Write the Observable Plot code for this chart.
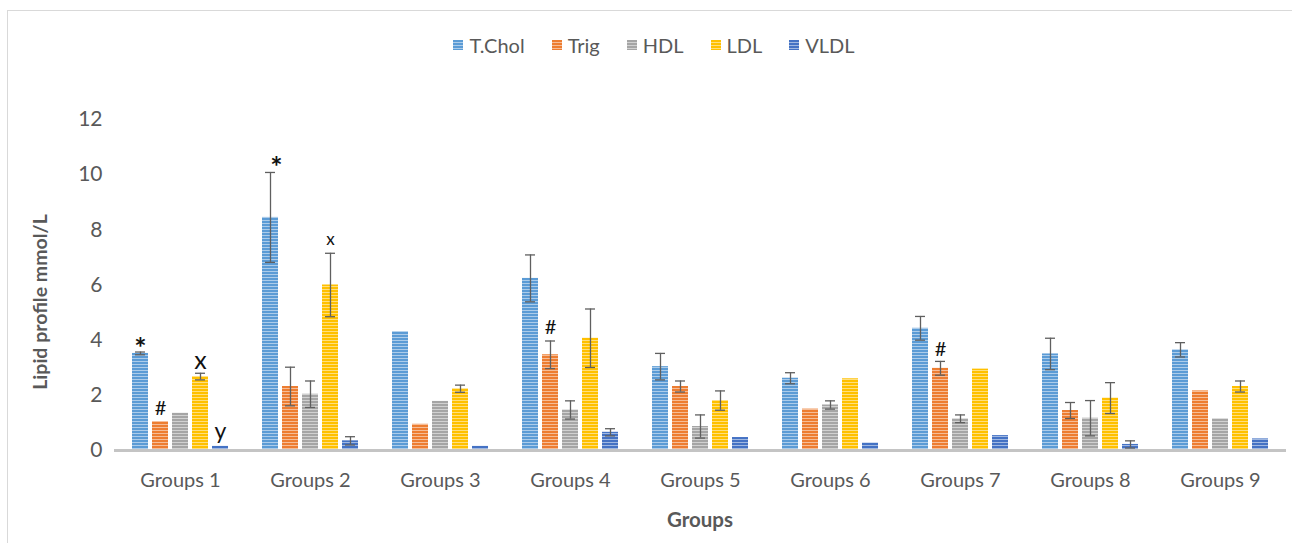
<!DOCTYPE html>
<html>
<head>
<meta charset="utf-8">
<script src="https://cdn.jsdelivr.net/npm/d3@7"></script>
<script src="https://cdn.jsdelivr.net/npm/@observablehq/plot@0.6"></script>
<style>
  html, body { margin: 0; padding: 0; background: #fff; }
  body { width: 1292px; height: 543px; overflow: hidden; position: relative; font-family: Lato, "Open Sans", sans-serif; }
  #frame { position: absolute; left: 7px; top: 10px; width: 1300px; height: 560px; border: 1px solid #d9d9d9; box-sizing: border-box; }
  #legend { position: absolute; left: 0; top: 22px; width: 1292px; display: flex; justify-content: center; gap: 27px; font-size: 20px; color: #595959; }
  #legend .item { display: flex; align-items: center; gap: 6px; }
  #legend svg { display: block; }
  #chart { position: absolute; left: 1px; top: 60px; }
</style>
</head>
<body>
<div id="frame">
  <div id="legend"></div>
  <div id="chart"></div>
</div>
<script>
// Lipid profile (mmol/L) for nine groups, mean ± error
const groups = ["Groups 1", "Groups 2", "Groups 3", "Groups 4", "Groups 5", "Groups 6", "Groups 7", "Groups 8", "Groups 9"];
const series = ["T.Chol", "Trig", "HDL", "LDL", "VLDL"];
const colors = ["#5B9BD5", "#ED7D31", "#A5A5A5", "#FFC000", "#4472C4"];

const tchol = [3.52, 8.45, 4.31, 6.24, 3.04, 2.62, 4.43, 3.50, 3.65];
const trig  = [1.05, 2.32, 0.95, 3.47, 2.32, 1.50, 2.98, 1.45, 2.16];
const hdl   = [1.35, 2.04, 1.78, 1.47, 0.87, 1.65, 1.15, 1.17, 1.15];
const ldl   = [2.68, 6.00, 2.24, 4.07, 1.81, 2.60, 2.95, 1.90, 2.32];
const vldl  = [0.15, 0.35, 0.15, 0.66, 0.47, 0.27, 0.54, 0.22, 0.42];

const tcholErr = [0.05, 1.63, 0.03, 0.85, 0.48, 0.20, 0.43, 0.57, 0.26];
const trigErr  = [0.03, 0.70, 0.03, 0.50, 0.20, 0.02, 0.25, 0.29, 0.02];
const hdlErr   = [0.03, 0.48, 0.02, 0.33, 0.42, 0.15, 0.14, 0.64, 0.02];
const ldlErr   = [0.12, 1.15, 0.13, 1.06, 0.35, 0.02, 0.02, 0.56, 0.20];
const vldlErr  = [0.02, 0.15, 0.02, 0.13, 0.03, 0.02, 0.02, 0.13, 0.03];

// Significance marks placed above particular bars
const markGroup  = ["Groups 1", "Groups 1", "Groups 1", "Groups 1", "Groups 2", "Groups 2", "Groups 4", "Groups 7"];
const markSeries = ["T.Chol", "Trig", "LDL", "VLDL", "T.Chol", "LDL", "Trig", "Trig"];
const markLabel  = ["*", "#", "x", "y", "*", "x", "#", "#"];

const values = [tchol, trig, hdl, ldl, vldl];
const errors = [tcholErr, trigErr, hdlErr, ldlErr, vldlErr];

const data = [];
groups.forEach((g, gi) => series.forEach((s, si) => {
  data.push({group: g, series: s, si, value: values[si][gi], err: errors[si][gi]});
}));
const errData = data.filter(d => d.err > 0.04);
const marks = markGroup.map((g, i) => {
  const d = data.find(r => r.group === g && r.series === markSeries[i]);
  return {group: g, series: markSeries[i], label: markLabel[i], top: d.value + (d.err > 0.04 ? d.err : 0)};
});
const markDy   = [-3, -13, -12, -15, -5, -14, -13, -12];
const markSize = [29, 20, 25, 23, 29, 17, 20, 20];
const markDx   = [0, 0, 0, 0, 6, 0, 0, 0];

const patId = i => `stripe${i}`;

const barMarks = series.map((s, si) => Plot.barY(data.filter(d => d.series === s), {
  fx: "group", x: "series", y: "value", fill: `url(#${patId(si)})`
}));

const textMarks = marks.map((m, i) => Plot.text([m], {
  fx: "group", x: "series", y: "top", text: "label",
  dy: markDy[i], dx: markDx[i], fontSize: markSize[i], fill: "#111", fontFamily: "Lato, sans-serif",
  fontWeight: m.label === "*" ? "bold" : "normal"
}));

const chart = Plot.plot({
  width: 1280,
  height: 462,
  marginLeft: 105,
  marginRight: 3,
  marginTop: 48,
  marginBottom: 83,
  style: {fontFamily: "Lato, 'Open Sans', sans-serif", color: "#595959", background: "transparent", overflow: "visible"},
  fx: {domain: groups, padding: 0, label: null, axis: null},
  x: {domain: series, paddingInner: 0.2, paddingOuter: 0.725, axis: null},
  y: {domain: [0, 12], label: null, axis: null},
  marks: [
    ...barMarks,
    Plot.ruleX(errData, {fx: "group", x: "series", y1: d => d.value - d.err, y2: d => d.value + d.err, stroke: "#5f5f5f", strokeWidth: 1.3}),
    Plot.tickY(errData, {fx: "group", x: "series", y: d => d.value + d.err, stroke: "#5f5f5f", strokeWidth: 1.3, insetLeft: 3, insetRight: 3}),
    Plot.tickY(errData, {fx: "group", x: "series", y: d => d.value - d.err, stroke: "#5f5f5f", strokeWidth: 1.3, insetLeft: 3, insetRight: 3}),
    ...textMarks,
    Plot.axisY({ticks: [0, 2, 4, 6, 8, 10, 12], tickSize: 0, tickPadding: 13, fontSize: 21, label: null}),
    Plot.axisFx({anchor: "bottom", tickSize: 0, tickPadding: 22, fontSize: 20, label: null}),
    Plot.ruleY([0], {stroke: "#c4c4c4", strokeWidth: 3, insetLeft: -1, insetRight: -1})
  ]
});

// Horizontal stripe fills for the bars
const ns = "http://www.w3.org/2000/svg";
function addPatterns(svg, prefix) {
  const defs = document.createElementNS(ns, "defs");
  colors.forEach((c, i) => {
    const p = document.createElementNS(ns, "pattern");
    p.setAttribute("id", prefix(i));
    p.setAttribute("patternUnits", "userSpaceOnUse");
    p.setAttribute("width", 4);
    p.setAttribute("height", 3);
    const r = document.createElementNS(ns, "rect");
    r.setAttribute("width", 4); r.setAttribute("height", 3); r.setAttribute("fill", c);
    const l = document.createElementNS(ns, "rect");
    l.setAttribute("y", 2); l.setAttribute("width", 4); l.setAttribute("height", 0.9);
    l.setAttribute("fill", "#fff"); l.setAttribute("fill-opacity", 0.55);
    p.appendChild(r); p.appendChild(l);
    defs.appendChild(p);
  });
  svg.insertBefore(defs, svg.firstChild);
}
addPatterns(chart, patId);

document.getElementById("chart").appendChild(chart);

// Axis titles
const yTitle = document.createElementNS(ns, "text");
yTitle.textContent = "Lipid profile mmol/L";
yTitle.setAttribute("transform", "translate(38,231) rotate(-90)");
yTitle.setAttribute("text-anchor", "middle");
yTitle.setAttribute("font-weight", "bold");
yTitle.setAttribute("font-size", 19.5);
yTitle.setAttribute("fill", "#595959");
chart.appendChild(yTitle);

const xTitle = document.createElementNS(ns, "text");
xTitle.textContent = "Groups";
xTitle.setAttribute("x", 691);
xTitle.setAttribute("y", 456);
xTitle.setAttribute("text-anchor", "middle");
xTitle.setAttribute("font-weight", "bold");
xTitle.setAttribute("font-size", 20.5);
xTitle.setAttribute("fill", "#595959");
chart.appendChild(xTitle);

// Legend
const legend = document.getElementById("legend");
series.forEach((s, i) => {
  const item = document.createElement("div");
  item.className = "item";
  item.innerHTML = `<svg width="10" height="10"><defs><pattern id="lg${i}" patternUnits="userSpaceOnUse" width="4" height="3"><rect width="4" height="3" fill="${colors[i]}"/><rect y="2" width="4" height="0.9" fill="#fff" fill-opacity="0.55"/></pattern></defs><rect width="10" height="10" fill="url(#lg${i})"/></svg><span>${s}</span>`;
  legend.appendChild(item);
});
</script>
</body>
</html>
